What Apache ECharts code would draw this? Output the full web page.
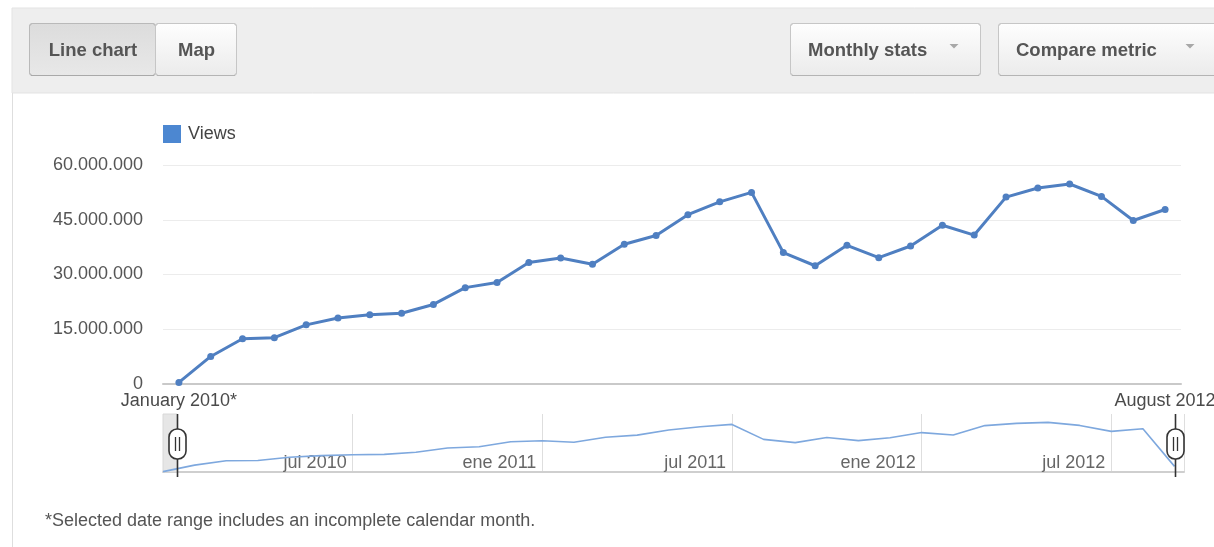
<!DOCTYPE html>
<html>
<head>
<meta charset="utf-8">
<title>Views – monthly stats</title>
<script src="https://cdn.jsdelivr.net/npm/echarts@6.0.0/dist/echarts.min.js"></script>
<style>
  html, body { margin: 0; padding: 0; background: #ffffff; }
  #chart { width: 1214px; height: 547px; }
</style>
</head>
<body>
<div id="chart"></div>
<script>
// ---- data -------------------------------------------------------------
const monthLabels = [
  'January 2010*', 'February 2010', 'March 2010', 'April 2010', 'May 2010', 'June 2010',
  'July 2010', 'August 2010', 'September 2010', 'October 2010', 'November 2010', 'December 2010',
  'January 2011', 'February 2011', 'March 2011', 'April 2011', 'May 2011', 'June 2011',
  'July 2011', 'August 2011', 'September 2011', 'October 2011', 'November 2011', 'December 2011',
  'January 2012', 'February 2012', 'March 2012', 'April 2012', 'May 2012', 'June 2012',
  'July 2012', 'August 2012'
];
const views = [
  440000, 7550000, 12400000, 12700000, 16200000, 18100000,
  19000000, 19400000, 21800000, 26400000, 27800000, 33300000,
  34500000, 32800000, 38300000, 40700000, 46400000, 49900000,
  52500000, 36000000, 32400000, 38000000, 34600000, 37800000,
  43500000, 40800000, 51200000, 53700000, 54800000, 51400000,
  44800000, 47800000
];
// September 2012, month to date (only in the overview strip)
const overviewTail = [6200000];
const yTicks = { min: 0, max: 60000000, step: 15000000 };
// overview strip: month offsets from January 2010 and their labels
const overviewTickMonths = [6, 12, 18, 24, 30];
const overviewTickLabels = ['jul 2010', 'ene 2011', 'jul 2011', 'ene 2012', 'jul 2012'];
const overviewExtent = 32.3;           // months shown in the strip
const selection = [0.45, 32];          // selected range, in months from January 2010

const FONT = '"Liberation Sans", Arial, Helvetica, sans-serif';

function dotted(v) {
  return String(Math.round(v)).replace(/\B(?=(\d{3})+(?!\d))/g, '.');
}

// ---- toolbar --------------------------------------------------------------
function grad(c0, c1) {
  return { type: 'linear', x: 0, y: 0, x2: 0, y2: 1,
           colorStops: [{ offset: 0, color: c0 }, { offset: 1, color: c1 }] };
}
function button(x, w, label, opt) {
  const pressed = opt && opt.pressed;
  const children = [
    { type: 'rect', shape: { x: x + 0.5, y: 23.5, width: w, height: 52, r: 3 },
      style: { fill: pressed ? grad('#dcdcdc', '#e8e8e8') : grad('#fefefe', '#ebebeb'),
               stroke: pressed ? '#b9b9b9' : '#c6c6c6', lineWidth: 1 } },
    { type: 'line', shape: { x1: x + 2, y1: 75.5, x2: x + w - 1, y2: 75.5 },
      style: { stroke: pressed ? '#a9a9a9' : '#b4b4b4', lineWidth: 1 } }
  ];
  const font = 'bold 18.5px ' + FONT;
  if (opt && opt.textLeft != null) {
    children.push({ type: 'text', x: opt.textLeft, y: 51,
      style: { text: label, fill: '#555555', font: font, align: 'left', verticalAlign: 'middle' } });
  } else {
    children.push({ type: 'text', x: x + w / 2 + 1, y: 51,
      style: { text: label, fill: '#555555', font: font, align: 'center', verticalAlign: 'middle' } });
  }
  if (opt && opt.arrowX != null) {
    const ax = opt.arrowX;
    children.push({ type: 'polygon',
      shape: { points: [[ax - 4.5, 44], [ax + 4.5, 44], [ax, 48.5]] },
      style: { fill: '#a8a8a8' } });
  }
  return { type: 'group', children: children };
}

const toolbar = [
  { type: 'rect', z: -10, shape: { x: 12, y: 8, width: 1220, height: 85 },
    style: { fill: '#eeeeee', stroke: '#e3e3e3', lineWidth: 1 } },
  { type: 'line', z: -10, shape: { x1: 12.5, y1: 93, x2: 12.5, y2: 547 },
    style: { stroke: '#dedede', lineWidth: 1 } },
  button(29, 126, 'Line chart', { pressed: true }),
  button(155, 81, 'Map'),
  button(790, 190, 'Monthly stats', { textLeft: 808, arrowX: 954 }),
  button(998, 232, 'Compare metric', { textLeft: 1016, arrowX: 1190 }),
  { type: 'text', x: 45, y: 521,
    style: { text: '*Selected date range includes an incomplete calendar month.',
             fill: '#555555', font: '18px ' + FONT, align: 'left', verticalAlign: 'middle' } }
];

// ---- chart ----------------------------------------------------------------
const chart = echarts.init(document.getElementById('chart'), null, { renderer: 'canvas' });

const overviewData = views.concat(overviewTail).map((v, i) => [i, v]);

chart.setOption({
  animation: false,
  backgroundColor: '#ffffff',
  textStyle: { fontFamily: FONT },
  legend: {
    data: [{ name: 'Views', itemStyle: { color: '#4c87d1' } }],
    left: 158, top: 120, icon: 'rect', itemWidth: 18, itemHeight: 18,
    selectedMode: false,
    textStyle: { fontSize: 18, color: '#444444', fontFamily: FONT, padding: [0, 0, 0, 2] }
  },
  grid: [
    { left: 163, right: 33, top: 165, bottom: 163, outerBoundsMode: 'none', containLabel: false },
    { left: 163, right: 30, top: 414, bottom: 75, outerBoundsMode: 'none', containLabel: false }
  ],
  xAxis: [
    {
      type: 'category', gridIndex: 0, data: monthLabels, boundaryGap: true,
      axisLine: { show: true, lineStyle: { color: '#c9c9c9', width: 2 } },
      axisTick: { show: false },
      splitLine: { show: false },
      axisLabel: {
        interval: (i) => i === 0 || i === monthLabels.length - 1,
        color: '#4a4a4a', fontSize: 18, fontFamily: FONT, margin: 8,
        hideOverlap: false
      }
    },
    {
      type: 'value', gridIndex: 1, min: 0, max: overviewExtent, interval: 6,
      axisLine: { show: true, lineStyle: { color: '#cfcfcf', width: 2 } },
      axisTick: { show: false },
      splitLine: { show: true, lineStyle: { color: '#dedede', width: 1 } },
      axisLabel: {
        inside: true, align: 'right', verticalAlign: 'bottom', margin: 0,
        padding: [0, 6, 0, 0],
        color: '#666666', fontSize: 18, fontFamily: FONT,
        formatter: (v) => {
          const k = overviewTickMonths.indexOf(Math.round(v));
          return k >= 0 && Math.abs(v - overviewTickMonths[k]) < 1e-6 ? overviewTickLabels[k] : '';
        }
      }
    }
  ],
  yAxis: [
    {
      type: 'value', gridIndex: 0, min: yTicks.min, max: yTicks.max, interval: yTicks.step,
      axisLine: { show: false }, axisTick: { show: false },
      splitLine: { show: true, lineStyle: { color: '#ececec', width: 1 } },
      axisLabel: { color: '#555555', fontSize: 18, fontFamily: FONT, margin: 20,
                   formatter: (v) => dotted(v) }
    },
    {
      type: 'value', gridIndex: 1, min: 0, max: 64000000,
      axisLine: { show: false }, axisTick: { show: false },
      splitLine: { show: false }, axisLabel: { show: false }
    }
  ],
  series: [
    {
      name: 'Views', type: 'line', xAxisIndex: 0, yAxisIndex: 0,
      data: views,
      symbol: 'circle', symbolSize: 7, showAllSymbol: true,
      lineStyle: { color: '#4f7fc1', width: 3 },
      itemStyle: { color: '#4f7fc1' },
      emphasis: { disabled: true }
    },
    {
      name: 'Overview', type: 'line', xAxisIndex: 1, yAxisIndex: 1,
      data: overviewData, symbol: 'none',
      lineStyle: { color: '#7ea8de', width: 1.6 },
      emphasis: { disabled: true },
      markArea: {
        silent: true,
        itemStyle: { color: '#e6e6e6', borderColor: '#d8d8d8', borderWidth: 1 },
        data: [[{ xAxis: 0 }, { xAxis: selection[0] }]]
      }
    }
  ],
  graphic: { elements: toolbar }
});

// ---- range handles on the overview strip ------------------------------------
function handle(px, top, bottom) {
  const mid = (top + bottom) / 2 + 1;
  return {
    type: 'group', z: 100, children: [
      { type: 'line', z: 100, shape: { x1: px, y1: top, x2: px, y2: bottom + 5 },
        style: { stroke: '#333333', lineWidth: 1.6 } },
      { type: 'rect', z: 101, shape: { x: px - 8.5, y: mid - 15, width: 17, height: 30, r: 8 },
        style: { fill: '#ffffff', stroke: '#333333', lineWidth: 1.6 } },
      { type: 'line', z: 102, shape: { x1: px - 2, y1: mid - 7, x2: px - 2, y2: mid + 7 },
        style: { stroke: '#333333', lineWidth: 1.3 } },
      { type: 'line', z: 102, shape: { x1: px + 2, y1: mid - 7, x2: px + 2, y2: mid + 7 },
        style: { stroke: '#333333', lineWidth: 1.3 } }
    ]
  };
}
const pTop = chart.convertToPixel({ xAxisIndex: 1, yAxisIndex: 1 }, [selection[0], 64000000]);
const pA = chart.convertToPixel({ xAxisIndex: 1, yAxisIndex: 1 }, [selection[0], 0]);
const pB = chart.convertToPixel({ xAxisIndex: 1, yAxisIndex: 1 }, [selection[1], 0]);
chart.setOption({
  graphic: { elements: toolbar.concat([
    handle(Math.round(pA[0]) + 0.5, pTop[1], pA[1]),
    handle(Math.round(pB[0]) + 0.5, pTop[1], pB[1])
  ]) }
});
</script>
</body>
</html>
